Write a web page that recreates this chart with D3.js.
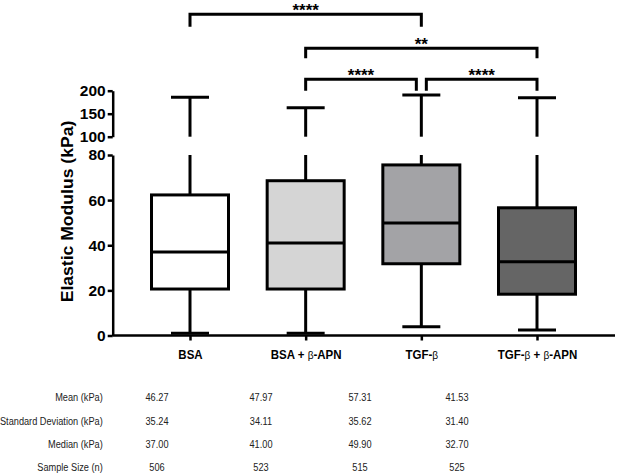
<!DOCTYPE html>
<html><head><meta charset="utf-8">
<script src="https://cdn.jsdelivr.net/npm/d3@7"></script>
<style>body{margin:0;background:#fff}svg{display:block}</style>
</head><body><svg id="c" width="618" height="475"></svg>
<script>
const categories = ["BSA", "BSA + β-APN", "TGF-β", "TGF-β + β-APN"];
const whiskerLow = [1.0, 1.0, 3.9, 2.4];
const q1 = [20.6, 20.6, 31.8, 18.3];
const medians = [37.0, 41.0, 49.9, 32.7];
const q3 = [62.3, 68.6, 75.6, 56.6];
const whiskerHigh = [185.7, 163, 190.6, 184.8];
const fills = ["#ffffff", "#d5d5d5", "#a3a3a6", "#656565"];
const lowTicks = [0, 20, 40, 60, 80];
const highTicks = [100, 150, 200];
const tableRows = ["Mean (kPa)", "Standard Deviation (kPa)", "Median (kPa)", "Sample Size (n)"];
const meanVals = ["46.27", "47.97", "57.31", "41.53"];
const sdVals = ["35.24", "34.11", "35.62", "31.40"];
const medianVals = ["37.00", "41.00", "49.90", "32.70"];
const nVals = ["506", "523", "515", "525"];
const comparisons = [[0, 2, "****"], [1, 3, "**"], [1, 2, "****"], [2, 3, "****"]];

const svg = d3.select("#c");
const FONT = "Liberation Sans, Arial, sans-serif";
const axisX0 = 112.7;
const x = d3.scalePoint().domain(categories).range([190, 537]);
const yLow = d3.scaleLinear().domain([0, 80]).range([335.5, 155]);
const yHigh = d3.scaleLinear().domain([100, 200]).range([136.7, 90.7]);
const boxW = 77, capW = 38, sw = 3;

// Y axes
function styleAxis(g) {
  g.selectAll("path.domain").attr("stroke", "#000").attr("stroke-width", 2.5);
  g.selectAll(".tick line").attr("stroke", "#000").attr("stroke-width", 2.5);
  g.selectAll(".tick text").attr("fill", "#000").attr("font-family", FONT)
    .attr("font-weight", "bold").attr("font-size", "15.5px");
}
svg.append("g").attr("transform", `translate(${axisX0},0)`)
  .call(d3.axisLeft(yLow).tickValues(lowTicks).tickSize(5).tickSizeOuter(0).tickPadding(2))
  .call(styleAxis);
svg.append("g").attr("transform", `translate(${axisX0},0)`)
  .call(d3.axisLeft(yHigh).tickValues(highTicks).tickSize(5).tickSizeOuter(0).tickPadding(2))
  .call(styleAxis);

// Y title
svg.append("text").attr("transform", "translate(72.5,211.5) rotate(-90) scale(1.1,1)")
  .attr("text-anchor", "middle").attr("font-family", FONT)
  .attr("font-weight", "bold").attr("font-size", "16px").attr("fill", "#000")
  .text("Elastic Modulus (kPa)");

// X axis
const xg = svg.append("g").attr("transform", `translate(0,${yLow(0)})`)
  .call(d3.axisBottom(x).tickSize(5).tickSizeOuter(0).tickPadding(10));
xg.select("path.domain").remove();
xg.selectAll(".tick line").attr("stroke", "#000").attr("stroke-width", 2.5);
xg.selectAll(".tick text").each(function(d) {
  const t = d3.select(this).text(null).attr("transform", "scale(0.92,1)")
    .attr("font-family", FONT).attr("font-size", "12.5px").attr("fill", "#000");
  d.split(/(β)/).forEach(p => {
    if (!p) return;
    t.append("tspan").text(p).attr("font-weight", p === "β" ? "normal" : "bold")
      .attr("font-size", p === "β" ? "11px" : "12.5px");
  });
});
svg.append("line").attr("x1", axisX0).attr("x2", 615).attr("y1", yLow(0)).attr("y2", yLow(0))
  .attr("stroke", "#000").attr("stroke-width", 2.5);

// Boxes
const g = svg.append("g");
categories.forEach((c, i) => {
  const cx = x(c);
  const line = (x1, y1, x2, y2) => g.append("line").attr("x1", x1).attr("y1", y1).attr("x2", x2).attr("y2", y2)
    .attr("stroke", "#000").attr("stroke-width", sw);
  // upper whisker, broken across the axis gap
  line(cx, yLow(q3[i]), cx, yLow(80));
  line(cx, yHigh(100), cx, yHigh(whiskerHigh[i]));
  line(cx - capW / 2, yHigh(whiskerHigh[i]), cx + capW / 2, yHigh(whiskerHigh[i]));
  // lower whisker
  line(cx, yLow(q1[i]), cx, yLow(whiskerLow[i]));
  line(cx - capW / 2, yLow(whiskerLow[i]), cx + capW / 2, yLow(whiskerLow[i]));
  // box
  g.append("rect").attr("x", cx - boxW / 2).attr("y", yLow(q3[i]))
    .attr("width", boxW).attr("height", yLow(q1[i]) - yLow(q3[i]))
    .attr("fill", fills[i]).attr("stroke", "#000").attr("stroke-width", sw);
  line(cx - boxW / 2, yLow(medians[i]), cx + boxW / 2, yLow(medians[i]));
});

// Significance brackets
const bracketY = [14.3, 48.3, 79.3, 79.3];
const legBottom = [26.7, 58.3, 90.7, 90.7];
const bg = svg.append("g");
comparisons.forEach(([a, b, lab], k) => {
  let xa = x(categories[a]), xb = x(categories[b]);
  if (k === 2) xb -= 5;
  if (k === 3) xa += 5;
  bg.append("path").attr("d", `M${xa},${legBottom[k]}V${bracketY[k]}H${xb}V${legBottom[k]}`)
    .attr("fill", "none").attr("stroke", "#000").attr("stroke-width", 3);
  bg.append("text").attr("x", (xa + xb) / 2).attr("y", bracketY[k] + 2)
    .attr("text-anchor", "middle").attr("font-family", FONT)
    .attr("font-weight", "bold").attr("font-size", "17px").attr("fill", "#000").text(lab);
});

// Table (condensed text)
const tableColX = [157, 261, 360, 457];
const rowY = [400.7, 424.7, 448, 470.7];
const rowsVals = [meanVals, sdVals, medianVals, nVals];
const cond = (tx, ty) => `translate(${tx},${ty}) scale(0.8,1)`;
tableRows.forEach((r, j) => {
  svg.append("text").attr("transform", cond(102.7, rowY[j])).attr("text-anchor", "end")
    .attr("font-family", FONT).attr("font-size", "11.5px").attr("fill", "#222").text(r);
  rowsVals[j].forEach((v, i) => {
    svg.append("text").attr("transform", cond(tableColX[i], rowY[j])).attr("text-anchor", "middle")
      .attr("font-family", FONT).attr("font-size", "11.5px").attr("fill", "#222").text(v);
  });
});
</script></body></html>
